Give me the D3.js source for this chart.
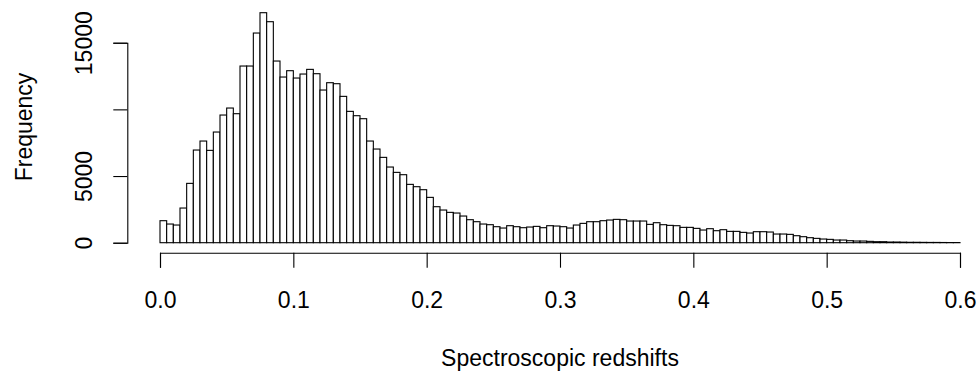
<!DOCTYPE html>
<html>
<head>
<meta charset="utf-8">
<script src="https://cdn.jsdelivr.net/npm/d3@7"></script>
<style>
  html, body { margin: 0; padding: 0; background: #fff; }
  svg { display: block; font-family: "Liberation Sans", Arial, Helvetica, sans-serif; }
</style>
</head>
<body>
<svg id="chart" width="980" height="373"></svg>
<script>
// ---- data (histogram of spectroscopic redshifts, bin width 0.005) ----
const binWidth = 0.005;
const binStarts = d3.range(0, 120).map(i => +(i * binWidth).toFixed(3));
const counts = [
  1650, 1400, 1325, 2600, 4450, 6950, 7625, 6925, 8300, 9575,
  10100, 9675, 13250, 13250, 15725, 17250, 16575, 13625, 12425, 12900,
  12350, 12650, 13000, 12675, 11450, 12000, 11925, 10975, 9850, 9525,
  9300, 7625, 7025, 6400, 5675, 5275, 5100, 4375, 4200, 3975,
  3400, 2700, 2450, 2275, 2225, 2000, 1725, 1575, 1400, 1350,
  1200, 1100, 1275, 1200, 1125, 1175, 1225, 1125, 1275, 1250,
  1200, 1100, 1325, 1450, 1575, 1575, 1650, 1700, 1750, 1725,
  1625, 1625, 1625, 1375, 1500, 1350, 1300, 1275, 1150, 1150,
  1075, 950, 1050, 900, 975, 850, 850, 775, 725, 825,
  825, 800, 650, 650, 625, 525, 450, 375, 325, 275,
  250, 200, 200, 150, 125, 125, 100, 75, 75, 50,
  50, 40, 30, 30, 25, 20, 20, 15, 10, 10
];
const xTicks = [0, 0.1, 0.2, 0.3, 0.4, 0.5, 0.6];
const xTickLabels = ["0.0", "0.1", "0.2", "0.3", "0.4", "0.5", "0.6"];
const yTicks = [0, 5000, 10000, 15000];
const yTickLabels = ["0", "5000", "", "15000"];
const xTitle = "Spectroscopic redshifts";
const yTitle = "Frequency";

// ---- layout ----
const svg = d3.select("#chart");
const fontSize = 23;
const x = d3.scaleLinear().domain([0, 0.6]).range([160, 960]);
const y = d3.scaleLinear().domain([0, 15000]).range([242.7, 42.7]);

// bars
svg.append("g")
  .selectAll("rect")
  .data(counts)
  .join("rect")
  .attr("x", (d, i) => x(binStarts[i]))
  .attr("y", d => y(d))
  .attr("width", x(binWidth) - x(0))
  .attr("height", d => y(0) - y(d))
  .attr("fill", "#fff")
  .attr("stroke", "#000")
  .attr("stroke-width", 1.1);

// x axis
const xAxis = d3.axisBottom(x)
  .tickValues(xTicks)
  .tickFormat((d, i) => xTickLabels[i])
  .tickSizeOuter(0)
  .tickSize(15)
  .tickPadding(24);
const gx = svg.append("g").attr("transform", "translate(0,252.7)").call(xAxis);
gx.select(".domain").attr("stroke", "#000").attr("stroke-width", 1.1);
gx.selectAll(".tick line").attr("stroke", "#000").attr("stroke-width", 1.1);
gx.selectAll(".tick text")
  .attr("font-size", fontSize)
  .attr("font-family", "'Liberation Sans', Arial, Helvetica, sans-serif")
  .attr("fill", "#000")
  .attr("dy", 0)
  .attr("y", 55.3);

// y axis
const yAxis = d3.axisLeft(y)
  .tickValues(yTicks)
  .tickFormat((d, i) => yTickLabels[i])
  .tickSizeOuter(0)
  .tickSize(14);
const gy = svg.append("g").attr("transform", "translate(127.3,0)").call(yAxis);
gy.select(".domain").attr("stroke", "#000").attr("stroke-width", 1.1);
gy.selectAll(".tick line").attr("stroke", "#000").attr("stroke-width", 1.1);
gy.selectAll(".tick text")
  .attr("font-size", fontSize)
  .attr("font-family", "'Liberation Sans', Arial, Helvetica, sans-serif")
  .attr("fill", "#000")
  .attr("text-anchor", "middle")
  .attr("x", 0)
  .attr("dy", 0)
  .attr("transform", "translate(-35.6,0) rotate(-90)");

// titles
svg.append("text")
  .attr("x", 560)
  .attr("y", 365.5)
  .attr("text-anchor", "middle")
  .attr("font-size", fontSize)
  .attr("fill", "#000")
  .text(xTitle);

svg.append("text")
  .attr("transform", "translate(32,127) rotate(-90)")
  .attr("text-anchor", "middle")
  .attr("font-size", fontSize)
  .attr("fill", "#000")
  .text(yTitle);
</script>
</body>
</html>
